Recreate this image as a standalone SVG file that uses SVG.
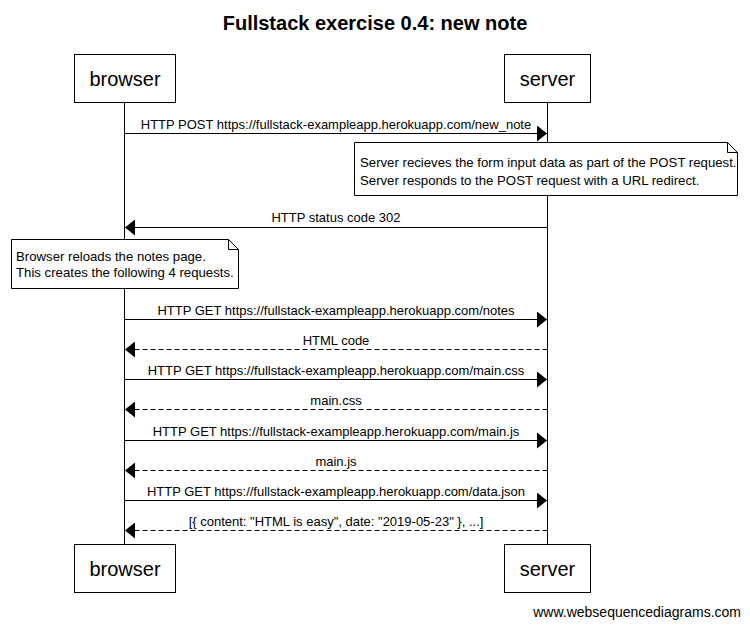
<svg xmlns="http://www.w3.org/2000/svg" width="750" height="627" viewBox="0 0 750 627">
<style>
text{font-family:"Liberation Sans",Arial,sans-serif;fill:#000}
.box{fill:#fff;stroke:#000;stroke-width:1}
.life{stroke:#000;stroke-width:1}
.msg{stroke:#000;stroke-width:1;fill:none}
.dash{stroke-dasharray:5,3}
.lbl{font-size:13px;text-anchor:middle}
.note{font-size:13.2px}
.part{font-size:20px;text-anchor:middle}
</style>
<defs>
<marker id="ah" viewBox="0 0 10 16" refX="10" refY="8" markerWidth="10" markerHeight="16" markerUnits="userSpaceOnUse" orient="auto">
<path d="M0,0 L10,8 L0,16 Z" fill="#000"/>
</marker>
</defs>
<rect x="0" y="0" width="750" height="627" fill="#fff"/>
<text x="375" y="30" font-size="20" font-weight="bold" text-anchor="middle">Fullstack exercise 0.4: new note</text>
<g id="lifelines">
<line class="life" x1="124.5" y1="103" x2="124.5" y2="544"/>
<line class="life" x1="547.5" y1="103" x2="547.5" y2="544"/>
</g>
<g id="browser">
<rect class="box" x="74.5" y="54.5" width="101" height="48"/>
<text class="part" x="125" y="86">browser</text>
</g>
<g id="server">
<rect class="box" x="504.5" y="54.5" width="86" height="48"/>
<text class="part" x="547.5" y="86">server</text>
</g>
<g id="browser-bottom">
<rect class="box" x="74.5" y="544.5" width="101" height="48"/>
<text class="part" x="125" y="576">browser</text>
</g>
<g id="server-bottom">
<rect class="box" x="504.5" y="544.5" width="86" height="48"/>
<text class="part" x="547.5" y="576">server</text>
</g>
<g id="note-server">
<path class="box" d="M354.5,142.5 H727.5 L737.5,152.5 V195.5 H354.5 Z"/>
<path class="msg" d="M727.5,142.5 V152.5 H737.5"/>
<text class="note" x="360" y="167">Server recieves the form input data as part of the POST request.</text>
<text class="note" x="360" y="185">Server responds to the POST request with a URL redirect.</text>
</g>
<g id="note-browser">
<path class="box" d="M11.5,239.5 H228.5 L238.5,249.5 V288.5 H11.5 Z"/>
<path class="msg" d="M228.5,239.5 V249.5 H238.5"/>
<text class="note" x="16" y="261">Browser reloads the notes page.</text>
<text class="note" x="16" y="277">This creates the following 4 requests.</text>
</g>
<g id="connectors">
<line class="msg" x1="124.5" y1="133.5" x2="547" y2="133.5" marker-end="url(#ah)"/>
<text class="lbl" x="336" y="129">HTTP POST https://fullstack-exampleapp.herokuapp.com/new_note</text>
<line class="msg" x1="547.5" y1="227.5" x2="125" y2="227.5" marker-end="url(#ah)"/>
<text class="lbl" x="336" y="222">HTTP status code 302</text>
<line class="msg" x1="124.5" y1="319.5" x2="547" y2="319.5" marker-end="url(#ah)"/>
<text class="lbl" x="336" y="315">HTTP GET https://fullstack-exampleapp.herokuapp.com/notes</text>
<line class="msg dash" x1="547.5" y1="349.5" x2="125" y2="349.5" marker-end="url(#ah)"/>
<text class="lbl" x="336" y="345">HTML code</text>
<line class="msg" x1="124.5" y1="379.5" x2="547" y2="379.5" marker-end="url(#ah)"/>
<text class="lbl" x="336" y="375">HTTP GET https://fullstack-exampleapp.herokuapp.com/main.css</text>
<line class="msg dash" x1="547.5" y1="409.5" x2="125" y2="409.5" marker-end="url(#ah)"/>
<text class="lbl" x="336" y="405">main.css</text>
<line class="msg" x1="124.5" y1="440.5" x2="547" y2="440.5" marker-end="url(#ah)"/>
<text class="lbl" x="336" y="436">HTTP GET https://fullstack-exampleapp.herokuapp.com/main.js</text>
<line class="msg dash" x1="547.5" y1="470.5" x2="125" y2="470.5" marker-end="url(#ah)"/>
<text class="lbl" x="336" y="466">main.js</text>
<line class="msg" x1="124.5" y1="500.5" x2="547" y2="500.5" marker-end="url(#ah)"/>
<text class="lbl" x="336" y="496">HTTP GET https://fullstack-exampleapp.herokuapp.com/data.json</text>
<line class="msg dash" x1="547.5" y1="530.5" x2="125" y2="530.5" marker-end="url(#ah)"/>
<text class="lbl" x="336" y="526">[{ content: "HTML is easy", date: "2019-05-23" }, ...]</text>
</g>
<text x="741" y="617" font-size="14" text-anchor="end">www.websequencediagrams.com</text>
</svg>
